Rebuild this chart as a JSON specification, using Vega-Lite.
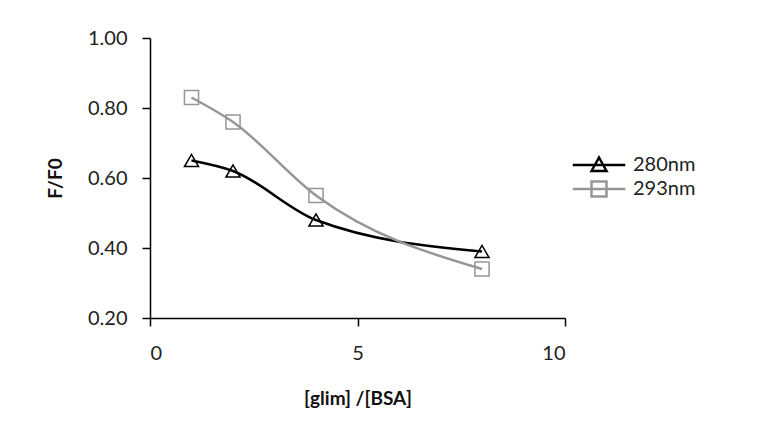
{
  "$schema": "https://vega.github.io/schema/vega-lite/v6.json",
  "width": 415,
  "height": 280,
  "autosize": "none",
  "padding": {"left": 150, "top": 38, "right": 202, "bottom": 119},
  "background": "white",
  "config": {
    "view": {"stroke": null},
    "font": "Lato",
    "axis": {"grid": false, "domainColor": "#000", "domainWidth": 1.5, "tickColor": "#000", "tickWidth": 1.5, "tickSize": 8, "labelFont": "Lato", "labelFontSize": 20, "labelColor": "#222", "titleFont": "Lato", "titleFontSize": 19, "titleFontWeight": "bold", "titleColor": "#111"}
  },
  "data": {
    "values": [
      {"x": 1, "y": 0.65, "s": "280nm"},
      {"x": 2, "y": 0.62, "s": "280nm"},
      {"x": 4, "y": 0.48, "s": "280nm"},
      {"x": 8, "y": 0.39, "s": "280nm"},
      {"x": 1, "y": 0.83, "s": "293nm"},
      {"x": 2, "y": 0.76, "s": "293nm"},
      {"x": 4, "y": 0.55, "s": "293nm"},
      {"x": 8, "y": 0.34, "s": "293nm"}
    ]
  },
  "encoding": {
    "x": {"field": "x", "type": "quantitative", "scale": {"domain": [0, 10], "nice": false, "zero": false}, "axis": {"values": [0, 5, 10], "title": "[glim] /[BSA]", "labelPadding": 17, "titlePadding": 26}},
    "y": {"field": "y", "type": "quantitative", "scale": {"domain": [0.2, 1.0], "nice": false, "zero": false}, "axis": {"values": [0.2, 0.4, 0.6, 0.8, 1.0], "format": ".2f", "title": "F/F0", "labelPadding": 15, "titlePadding": 22}}
  },
  "layer": [
    {
      "transform": [{"filter": "datum.s === '280nm'"}],
      "mark": {"type": "line", "interpolate": "monotone", "strokeWidth": 2.5, "stroke": "#000000"}
    },
    {
      "transform": [{"filter": "datum.s === '293nm'"}],
      "mark": {"type": "line", "interpolate": "monotone", "strokeWidth": 2.5, "stroke": "#969696"}
    },
    {
      "transform": [{"filter": "datum.s === '280nm'"}],
      "mark": {"type": "point", "filled": false, "size": 200, "strokeWidth": 1.5, "opacity": 1, "shape": "triangle-up", "stroke": "#000000"}
    },
    {
      "transform": [{"filter": "datum.s === '293nm'"}],
      "mark": {"type": "point", "filled": false, "size": 200, "strokeWidth": 1.5, "opacity": 1, "shape": "square", "stroke": "#969696"}
    },
    {
      "mark": {"type": "point", "filled": false, "opacity": 0},
      "encoding": {
        "stroke": {"field": "s", "type": "nominal", "scale": {"domain": ["280nm", "293nm"], "range": ["#000000", "#969696"]},
          "legend": {"title": null, "orient": "none", "legendX": 439, "legendY": 117, "labelFont": "Lato", "labelFontSize": 20, "labelColor": "#222", "labelOffset": 24, "symbolSize": 225, "symbolStrokeWidth": 2.5, "symbolOpacity": 1, "symbolFillColor": "transparent", "rowPadding": 0}},
        "shape": {"field": "s", "type": "nominal", "scale": {"domain": ["280nm", "293nm"], "range": ["M-3.5,0H3.5M-1,0.8L0,-1L1,0.8Z", "M-3.5,0H3.5M-1,-1H1V1H-1Z"]},
          "legend": {"title": null, "orient": "none", "legendX": 439, "legendY": 117, "labelFont": "Lato", "labelFontSize": 20, "labelColor": "#222", "labelOffset": 24, "symbolSize": 225, "symbolStrokeWidth": 2.5, "symbolOpacity": 1, "symbolFillColor": "transparent", "rowPadding": 0}}
      }
    }
  ]
}
